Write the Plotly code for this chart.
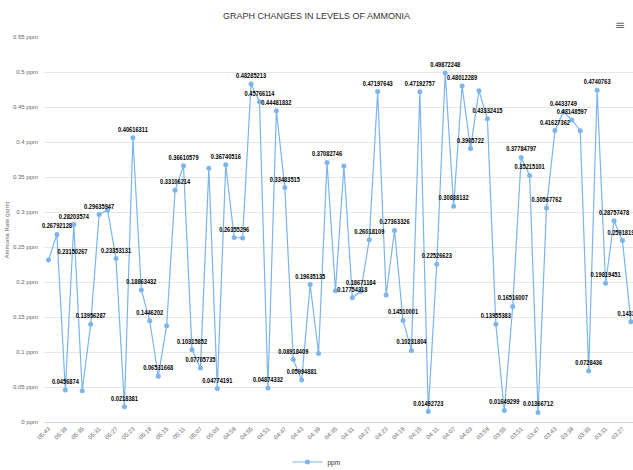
import plotly.graph_objects as go

# Sampling times (every 2 minutes, newest first)
times = [
    "05:43", "05:41", "05:39", "05:37", "05:35", "05:33", "05:31", "05:29", "05:27", "05:25",
    "05:23", "05:21", "05:19", "05:17", "05:15", "05:13", "05:11", "05:09", "05:07", "05:05",
    "05:03", "05:01", "04:59", "04:57", "04:55", "04:53", "04:51", "04:49", "04:47", "04:45",
    "04:43", "04:41", "04:39", "04:37", "04:35", "04:33", "04:31", "04:29", "04:27", "04:25",
    "04:23", "04:21", "04:19", "04:17", "04:15", "04:13", "04:11", "04:09", "04:07", "04:05",
    "04:03", "04:01", "03:59", "03:57", "03:55", "03:53", "03:51", "03:49", "03:47", "03:45",
    "03:43", "03:41", "03:39", "03:37", "03:35", "03:33", "03:31", "03:29", "03:27", "03:25",
]

# Ammonia readings (ppm)
ppm = [
    0.23150267, 0.26792128, 0.0456874, 0.28203574, 0.0447, 0.13956287, 0.29635947, 0.3029,
    0.23353131, 0.0218381, 0.40616311, 0.18863432, 0.1446202, 0.06531668, 0.1376, 0.33106214,
    0.36610579, 0.10315852, 0.07705735, 0.3624, 0.04774191, 0.36740516, 0.26355296, 0.263,
    0.48285213, 0.45766114, 0.04874332, 0.44481832, 0.33483515, 0.08918409, 0.05994881,
    0.19635135, 0.098, 0.37082746, 0.1876, 0.3657, 0.17754318, 0.18671184, 0.26018109,
    0.47197643, 0.1814, 0.27363326, 0.14510001, 0.10231804, 0.47192757, 0.01492723,
    0.22526623, 0.49872248, 0.30838132, 0.48012289, 0.3905722, 0.4733, 0.43332415,
    0.13955383, 0.01649299, 0.16516007, 0.37784797, 0.35215101, 0.01366712, 0.30567762,
    0.41627362, 0.4433749, 0.43148597, 0.4162, 0.0728436, 0.4740763, 0.19819451,
    0.28757478, 0.25918194, 0.1433424,
]

# Points whose value label is suppressed because it would collide with a neighbour's
hidden_labels = [4, 7, 14, 19, 23, 32, 34, 35, 40, 51, 63]

y_ticks = [0, 0.05, 0.1, 0.15, 0.2, 0.25, 0.3, 0.35, 0.4, 0.45, 0.5, 0.55]

FONT = "Liberation Sans, Arial, sans-serif"
LINE_COLOR = "#7cb5ec"

labels = ["" if i in hidden_labels else str(v) for i, v in enumerate(ppm)]
positions = ["top center"] * len(ppm)
positions[0] = "top right"

fig = go.Figure()
fig.add_trace(go.Scatter(
    x=times,
    y=ppm,
    mode="lines+markers+text",
    name="ppm",
    line=dict(color=LINE_COLOR, width=1.2),
    marker=dict(color=LINE_COLOR, size=5),
    text=labels,
    textposition=positions,
    textfont=dict(family=FONT, size=7.5, color="#000000", weight="bold"),
    cliponaxis=False,
))

fig.update_layout(
    width=633,
    height=470,
    margin=dict(l=44, r=0, t=37, b=48),
    paper_bgcolor="#ffffff",
    plot_bgcolor="#ffffff",
    font=dict(family=FONT, color="#666666", size=6),
    title=dict(
        text="GRAPH CHANGES IN LEVELS OF AMMONIA",
        font=dict(family=FONT, size=9, color="#333333"),
        x=0.5, xref="container", xanchor="center",
        y=1 - 16 / 470, yref="container", yanchor="middle",
    ),
    showlegend=True,
    legend=dict(
        orientation="h",
        x=0.5, xref="container", xanchor="center",
        y=1 - 462 / 470, yref="container", yanchor="middle",
        font=dict(family=FONT, size=6.5, color="#333333"),
        itemwidth=30,
    ),
    xaxis=dict(
        type="category",
        range=[-0.53, 69.25],
        tickmode="array",
        tickvals=times[::2],
        ticktext=times[::2],
        tickangle=-45,
        tickfont=dict(family=FONT, size=6, color="#666666"),
        showgrid=False,
        showline=True,
        linecolor="#ccd6eb",
        linewidth=1,
        ticks="",
        zeroline=False,
    ),
    yaxis=dict(
        range=[0, 0.55],
        tickmode="array",
        tickvals=y_ticks,
        ticktext=[f"{v:g} ppm" for v in y_ticks],
        tickfont=dict(family=FONT, size=6, color="#666666"),
        showgrid=True,
        gridcolor="#e6e6e6",
        gridwidth=1,
        zeroline=False,
        ticks="",
        ticklabelstandoff=5,
    ),
    annotations=[
        dict(
            text="Ammonia Rate (ppm)",
            xref="paper", yref="paper",
            x=-0.063, y=0.5,
            xanchor="center", yanchor="middle",
            textangle=-90,
            showarrow=False,
            font=dict(family=FONT, size=6, color="#666666"),
        ),
        dict(
            text="≡",
            xref="paper", yref="paper",
            x=0.99, y=1 + 21 / 385,
            showarrow=False,
            font=dict(family="DejaVu Sans", size=12, color="#666666"),
        ),
    ],
)

# Condense the point value labels horizontally, each about its own centre
condense_labels = (
    "var s = document.createElement('style');"
    "s.textContent = '.textpoint text { transform-box: fill-box; "
    "transform-origin: center; transform: scaleX(0.76); }';"
    "document.head.appendChild(s);"
)

fig.write_html("out.html", post_script=condense_labels)
